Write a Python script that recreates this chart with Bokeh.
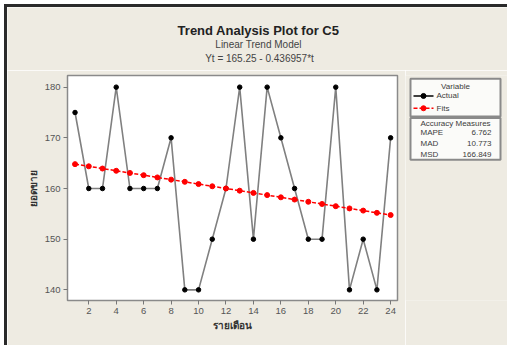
from bokeh.plotting import figure
from bokeh.models import FixedTicker, Range1d
from bokeh.layouts import column, row
from bokeh.core.properties import value
from bokeh.embed import file_html
from bokeh.resources import INLINE

# ---- data ----
t = list(range(1, 25))
actual = [175, 160, 160, 180, 160, 160, 160, 170, 140, 140, 150, 160,
          180, 150, 180, 170, 160, 150, 150, 180, 140, 150, 140, 170]
fits = [164.81, 164.38, 163.94, 163.50, 163.07, 162.63, 162.19, 161.75,
        161.32, 160.88, 160.44, 160.01, 159.57, 159.13, 158.70, 158.26,
        157.82, 157.38, 156.95, 156.51, 156.07, 155.64, 155.20, 154.76]
x_ticks = [2, 4, 6, 8, 10, 12, 14, 16, 18, 20, 22, 24]
y_ticks = [140, 150, 160, 170, 180]
title_main = "Trend Analysis Plot for C5"
title_sub = "Linear Trend Model"
title_eq = "Yt = 165.25 - 0.436957*t"
x_label = "รายเดือน"
y_label = "ยอดขาย"
legend_title = "Variable"
series_names = ["Actual", "Fits"]
acc_title = "Accuracy Measures"
acc_names = ["MAPE", "MAD", "MSD"]
acc_values = ["6.762", "10.773", "166.849"]

FONT = "Liberation Sans"
BG = "#EEEBE2"
TXT = "#3c3c3c"


def deco(width, height, x0, x1, y0, y1):
    f = figure(width=width, height=height, x_range=Range1d(x0, x1),
               y_range=Range1d(y1, y0), x_axis_type=None, y_axis_type=None,
               output_backend="svg", toolbar_location=None, min_border=0,
               background_fill_color=BG, border_fill_color=BG)
    f.grid.visible = False
    f.outline_line_color = None
    return f


# ---- title strip (pixel-space figure) ----
top = deco(500, 63, 7, 507, 7, 70)
top.text(x=[258], y=[30], text=[title_main], text_font=value(FONT),
         text_font_size="13px", text_font_style="bold", text_color="#222222",
         text_align="center", text_baseline="middle")
top.text(x=[258, 259], y=[44, 58], text=[title_sub, title_eq], text_font=value(FONT),
         text_font_size="10px", text_color="#444444",
         text_align="center", text_baseline="middle")

# ---- main chart ----
p = figure(frame_width=330, frame_height=225,
           x_range=Range1d(0.45, 24.5), y_range=Range1d(137.9, 182.3),
           output_backend="svg", toolbar_location=None,
           min_border_left=60, min_border_right=8,
           min_border_top=5, min_border_bottom=45,
           background_fill_color="white", border_fill_color=BG)
p.grid.visible = False
p.outline_line_color = "#8a8a8a"
p.outline_line_width = 1.5

for ax in (p.xaxis[0], p.yaxis[0]):
    ax.axis_line_color = "#8a8a8a"
    ax.major_tick_in = 0
    ax.major_tick_out = 4
    ax.major_tick_line_color = "#777777"
    ax.minor_tick_line_color = None
    ax.major_label_text_font = FONT
    ax.major_label_text_font_size = "9.5px"
    ax.major_label_text_color = "#555555"
    ax.major_label_standoff = 3
    ax.axis_label_text_font_size = "10px"
    ax.axis_label_text_font_style = "bold"
    ax.axis_label_text_color = "#333333"
    ax.axis_label_standoff = 3

p.xaxis.ticker = FixedTicker(ticks=x_ticks)
p.yaxis.ticker = FixedTicker(ticks=y_ticks)
p.xaxis.axis_label = x_label
p.yaxis.axis_label = y_label

p.line(t, actual, line_color="#808080", line_width=1.6)
p.scatter(t, actual, size=4.5, color="black")
p.line(t, fits, line_color="red", line_width=1.5, line_dash="4 2")
p.scatter(t, fits, size=5, color="red")

# ---- side panel (legend + accuracy measures, pixel-space figure) ----
side = deco(102, 275, 405, 507, 70, 345)
side.quad(left=[410, 410], right=[500, 500], top=[74, 122], bottom=[120, 173],
          fill_color="#FBFBF9", line_color="#8a8a8a", line_width=2)
side.text(x=[455, 455], y=[83, 129], text=[legend_title, acc_title],
          text_font=value(FONT), text_font_size="8px", text_color=TXT,
          text_align="center", text_baseline="middle")
# legend samples
side.line(x=[413, 433], y=[95, 95], line_color="black", line_width=1.5)
side.scatter(x=[423], y=[95], size=5, color="black")
side.line(x=[413, 433], y=[110, 110], line_color="red", line_width=1.5, line_dash="4 2")
side.scatter(x=[423], y=[110], size=5, color="red")
side.text(x=[436, 436], y=[95, 110], text=series_names,
          text_font=value(FONT), text_font_size="8px", text_color=TXT,
          text_align="left", text_baseline="middle")
# accuracy rows
side.text(x=[420, 420, 420], y=[140, 153, 166], text=acc_names,
          text_font=value(FONT), text_font_size="8px", text_color=TXT,
          text_align="left", text_baseline="middle")
side.text(x=[491, 491, 491], y=[140, 153, 166], text=acc_values,
          text_font=value(FONT), text_font_size="8px", text_color=TXT,
          text_align="right", text_baseline="middle")

layout = column(top, row(p, side, spacing=0), spacing=0)
layout.styles = {"margin-left": "4px", "margin-top": "4px",
                 "border-left": "3px solid #2a2a2a", "border-top": "3px solid #2a2a2a"}

open("out.html", "w").write(file_html(layout, INLINE))
